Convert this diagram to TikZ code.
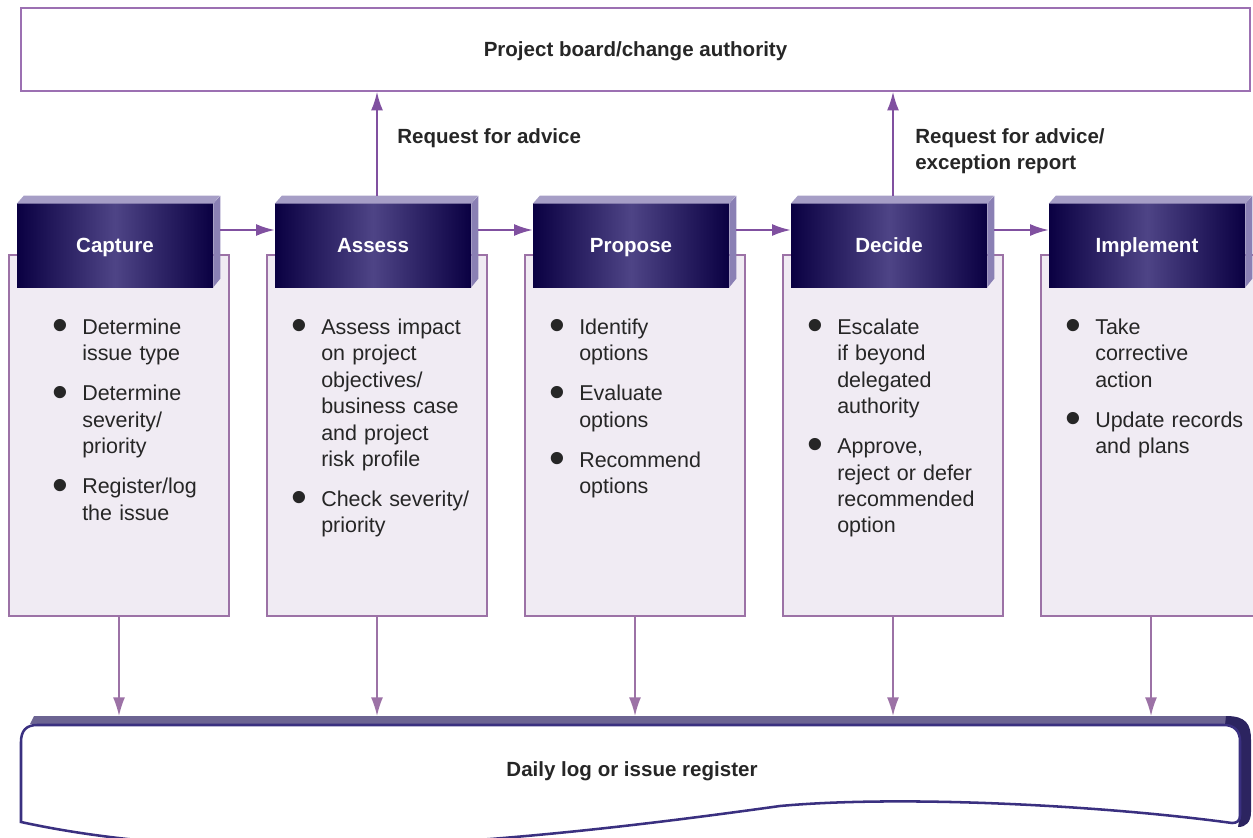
\documentclass[tikz,border=0pt]{standalone}
\usepackage{fontspec}
\setmainfont{Liberation Sans}
\usepackage{enumitem}
\usetikzlibrary{arrows.meta,calc}

\definecolor{hdrdark}{RGB}{10,0,66}
\definecolor{hdrmid}{RGB}{78,68,134}
\definecolor{hdrtop}{RGB}{166,158,198}
\definecolor{hdrside}{RGB}{138,128,180}
\definecolor{boxfill}{RGB}{240,235,243}
\definecolor{boxline}{RGB}{156,114,166}
\definecolor{arrcol}{RGB}{128,80,160}
\definecolor{downcol}{RGB}{156,114,166}
\definecolor{boardline}{RGB}{156,112,178}
\definecolor{logline}{RGB}{58,48,128}
\definecolor{logband}{RGB}{108,100,146}
\definecolor{logshade}{RGB}{44,36,96}

\newcommand{\bodyfont}{\fontsize{16.1}{19.8}\selectfont}
\newcommand{\lblfont}{\fontsize{15.4}{19.5}\selectfont\bfseries}

\newlist{steps}{itemize}{1}
\setlist[steps]{nosep, itemsep=10.2pt, leftmargin=22.5pt, labelsep=0pt, labelwidth=22.5pt, align=left, label={\raisebox{-4.8pt}{\scalebox{2.1}{\textbullet}}}}

\begin{document}
\begin{tikzpicture}[x=0.75pt,y=0.75pt,yscale=-1,xscale=1,
  hdr/.style={minimum width=147pt, minimum height=62.25pt, inner sep=0pt, text height=11.2pt, text depth=0pt, left color=hdrdark, right color=hdrdark, middle color=hdrmid, text=white, font=\lblfont},
  topface/.style={fill=hdrtop},
  sideface/.style={fill=hdrside},
  cbox/.style={draw=boxline, fill=boxfill, line width=1.9pt, minimum width=165pt, minimum height=270.75pt, inner sep=0pt},
  lst/.style={anchor=base west, text width=152pt, inner sep=0pt, align=left, font=\bodyfont, text=black!85},
  topbox/.style={draw=boardline, line width=1.1pt, minimum width=921.75pt, minimum height=62.25pt, inner sep=0pt, text height=11.2pt, text depth=0pt, font=\lblfont, text=black!85},
  lbl/.style={inner sep=0pt, font=\lblfont, text=black!85},
  arr/.style={draw=arrcol, line width=1.5pt, -{Latex[length=14pt,width=9pt]}},
  darr/.style={arr, draw=downcol, line width=1.2pt}]
\useasboundingbox (0,0) rectangle (1253,838);
\clip (0,0) rectangle (1253,838);

%Shape: Rectangle
\node[topbox] (board) at (635.5,49.5) {Project board/change authority};

%Shape: Content boxes
\node[cbox] (capbox) at (119,435.5) {};
\node[cbox] (assbox) at (377,435.5) {};
\node[cbox] (probox) at (635,435.5) {};
\node[cbox] (decbox) at (893,435.5) {};
\node[cbox] (impbox) at (1151,435.5) {};

%Shape: Headers
\node[hdr] (cap) at (115,245.5) {Capture};
\fill[topface] (cap.north west) -- ++(7,-8) -- ++(196,0) -- (cap.north east) -- cycle;
\fill[sideface] (cap.north east) -- ++(7,-8) -- ++(0,83) -- (cap.south east) -- cycle;

\node[hdr] (ass) at (373,245.5) {Assess};
\fill[topface] (ass.north west) -- ++(7,-8) -- ++(196,0) -- (ass.north east) -- cycle;
\fill[sideface] (ass.north east) -- ++(7,-8) -- ++(0,83) -- (ass.south east) -- cycle;

\node[hdr] (pro) at (631,245.5) {Propose};
\fill[topface] (pro.north west) -- ++(7,-8) -- ++(196,0) -- (pro.north east) -- cycle;
\fill[sideface] (pro.north east) -- ++(7,-8) -- ++(0,83) -- (pro.south east) -- cycle;

\node[hdr] (dec) at (889,245.5) {Decide};
\fill[topface] (dec.north west) -- ++(7,-8) -- ++(196,0) -- (dec.north east) -- cycle;
\fill[sideface] (dec.north east) -- ++(7,-8) -- ++(0,83) -- (dec.south east) -- cycle;

\node[hdr] (imp) at (1147,245.5) {Implement};
\fill[topface] (imp.north west) -- ++(7,-8) -- ++(196,0) -- (imp.north east) -- cycle;
\fill[sideface] (imp.north east) -- ++(7,-8) -- ++(0,83) -- (imp.south east) -- cycle;

% Text Node
\node[lst] (captxt) at (52,308) {\begin{steps}
  \item Determine\newline issue type
  \item Determine\newline severity/\newline priority
  \item Register/log\newline the issue
\end{steps}};
% Text Node
\node[lst] (asstxt) at (291,308) {\begin{steps}
  \item Assess impact\newline on project\newline objectives/\newline business case\newline and project\newline risk profile
  \item Check severity/\newline priority
\end{steps}};
% Text Node
\node[lst] (protxt) at (549,308) {\begin{steps}
  \item Identify\newline options
  \item Evaluate\newline options
  \item Recommend\newline options
\end{steps}};
% Text Node
\node[lst] (dectxt) at (807,308) {\begin{steps}
  \item Escalate\newline if beyond\newline delegated\newline authority
  \item Approve,\newline reject or defer\newline recommended\newline option
\end{steps}};
% Text Node
\node[lst] (imptxt) at (1065,308) {\begin{steps}
  \item Take\newline corrective\newline action
  \item Update records\newline and plans
\end{steps}};

%Shape: Document
\fill[logband] (34,716) -- (1228,716) -- (1226,724) -- (30,724) -- cycle;
\fill[logshade] (1226,716) .. controls (1246,716) and (1251,724) .. (1251,740) -- (1251,812) .. controls (1251,822) and (1246,827) .. (1238,827) -- (1240,815) -- (1240,741) .. controls (1240,731) and (1234,725) .. (1225,725) -- cycle;
\draw[logline, line width=1.9pt] (1232,823) .. controls (1100,805) and (900,795) .. (780,806) .. controls (550,838) and (250,872) .. (21,822) -- (21,742) .. controls (21,731) and (26,725) .. (37,725) -- (1224,725) .. controls (1234,725) and (1240,731) .. (1240,741) -- (1240,815) .. controls (1240,821) and (1237,823) .. (1232,823) -- cycle;
\coordinate (logtop) at (0,716);

% Text Node
\node[lbl] (log) at (632,771) {Daily log or issue register};
% Text Node
\node[lbl, anchor=west] (req) at (397,138) {Request for advice};
% Text Node
\node[lbl, anchor=west, align=left] (exc) at (915,151) {Request for advice/\\exception report};

%Straight Lines
\draw[arr] ($(cap.east)+(7,-15.5)$) -- ($(ass.west)+(0,-15.5)$);
\draw[arr] ($(ass.east)+(7,-15.5)$) -- ($(pro.west)+(0,-15.5)$);
\draw[arr] ($(pro.east)+(7,-15.5)$) -- ($(dec.west)+(0,-15.5)$);
\draw[arr] ($(dec.east)+(7,-15.5)$) -- ($(imp.west)+(0,-15.5)$);

%Straight Lines
\coordinate (assup) at ($(ass.north)+(4,-8)$);
\coordinate (decup) at ($(dec.north)+(4,-8)$);
\draw[arr] (assup) -- (assup |- board.south);
\draw[arr] (decup) -- (decup |- board.south);

%Straight Lines
\draw[darr] (capbox.south) -- (capbox.south |- logtop);
\draw[darr] (assbox.south) -- (assbox.south |- logtop);
\draw[darr] (probox.south) -- (probox.south |- logtop);
\draw[darr] (decbox.south) -- (decbox.south |- logtop);
\draw[darr] (impbox.south) -- (impbox.south |- logtop);

\end{tikzpicture}
\end{document}
